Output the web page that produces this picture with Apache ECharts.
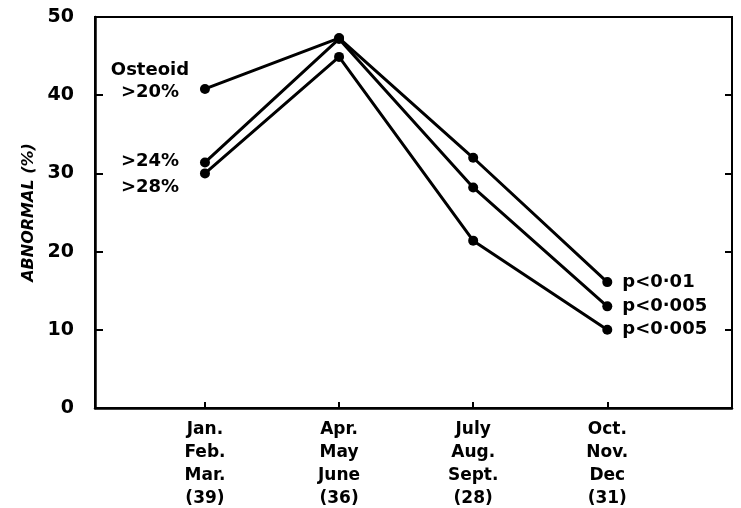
<!DOCTYPE html>
<html>
<head>
<meta charset="utf-8">
<script src="https://cdn.jsdelivr.net/npm/echarts@6/dist/echarts.min.js"></script>
<style>
	html,body{margin:0;padding:0;background:#fff;}
	#chart{width:741px;height:508px;}
</style>
</head>
<body>
<div id="chart"></div>
<script>
var categories = ['Jan.\nFeb.\nMar.\n(39)', 'Apr.\nMay\nJune\n(36)', 'July\nAug.\nSept.\n(28)', 'Oct.\nNov.\nDec\n(31)'];
var osteoid20 = [40.8, 47.3, 32.0, 16.1];
var osteoid24 = [31.4, 47.2, 28.2, 13.0];
var osteoid28 = [30.0, 44.9, 21.4, 10.0];
var startLabels = ['Osteoid\n>20%', '>24%', '>28%'];
var endLabels = ['p<0·01', 'p<0·005', 'p<0·005'];
var yTicks = [0, 10, 20, 30, 40, 50];

var FONT = 'DejaVu Sans';
var allSeries = [osteoid20, osteoid24, osteoid28];
// vertical nudge of the left-hand annotations
var startOffsets = [-8, -1, 14];

function buildData(values, k){
	return values.map(function(v, i){
		var item = {value: [i, v]};
		if (i === 0){
			item.label = {
				show: true, position: 'left', distance: 50, align: 'center',
				offset: [0, startOffsets[k]],
				formatter: startLabels[k]
			};
		} else if (i === values.length - 1){
			item.label = {
				show: true, position: 'right', distance: 10, formatter: endLabels[k]
			};
		}
		return item;
	});
}

var series = allSeries.map(function(values, k){
	return {
		type: 'line',
		data: buildData(values, k),
		symbol: 'circle',
		symbolSize: 10,
		itemStyle: {color: '#000'},
		lineStyle: {color: '#000', width: 3},
		label: {color: '#000', fontFamily: FONT, fontWeight: 'bold', fontSize: 18, lineHeight: 22},
		emphasis: {disabled: true},
		z: 3
	};
});

var chart = echarts.init(document.getElementById('chart'));
chart.setOption({
	animation: false,
	backgroundColor: '#fff',
	grid: {
		left: 95, right: 9, top: 17, bottom: 100,
		show: true, borderColor: '#000', borderWidth: 2,
		outerBoundsMode: 'none'
	},
	xAxis: {
		type: 'value',
		min: -0.82,
		max: 3.93,
		splitLine: {show: false},
		axisLine: {onZero: false, lineStyle: {color: '#000', width: 2.5}},
		axisTick: {
			show: true, inside: true, length: 6,
			customValues: [0, 1, 2, 3],
			lineStyle: {color: '#000', width: 2}
		},
		axisLabel: {
			customValues: [0, 1, 2, 3],
			formatter: function(v){ return categories[Math.round(v)] || ''; },
			color: '#000', fontFamily: FONT, fontWeight: 'bold', fontSize: 17,
			lineHeight: 23, margin: 10
		}
	},
	yAxis: [{
		type: 'value',
		min: 0, max: 50, interval: 10,
		name: 'ABNORMAL (%)',
		nameLocation: 'middle',
		nameGap: 55,
		nameTextStyle: {color: '#000', fontFamily: FONT, fontStyle: 'italic', fontWeight: 'bold', fontSize: 16},
		splitLine: {show: false},
		axisLine: {show: true, onZero: false, lineStyle: {color: '#000', width: 2.5}},
		axisTick: {show: true, inside: true, length: 8, lineStyle: {color: '#000', width: 2}},
		axisLabel: {
			color: '#000', fontFamily: FONT, fontWeight: 'bold', fontSize: 19, margin: 21,
			formatter: function(v){ return yTicks.indexOf(v) >= 0 ? String(v) : ''; }
		}
	}, {
		type: 'value',
		position: 'right',
		min: 0, max: 50, interval: 10,
		splitLine: {show: false},
		axisLine: {show: true, onZero: false, lineStyle: {color: '#000', width: 2}},
		axisTick: {show: true, inside: true, length: 7, lineStyle: {color: '#000', width: 2}},
		axisLabel: {show: false}
	}],
	series: series
});
</script>
</body>
</html>
